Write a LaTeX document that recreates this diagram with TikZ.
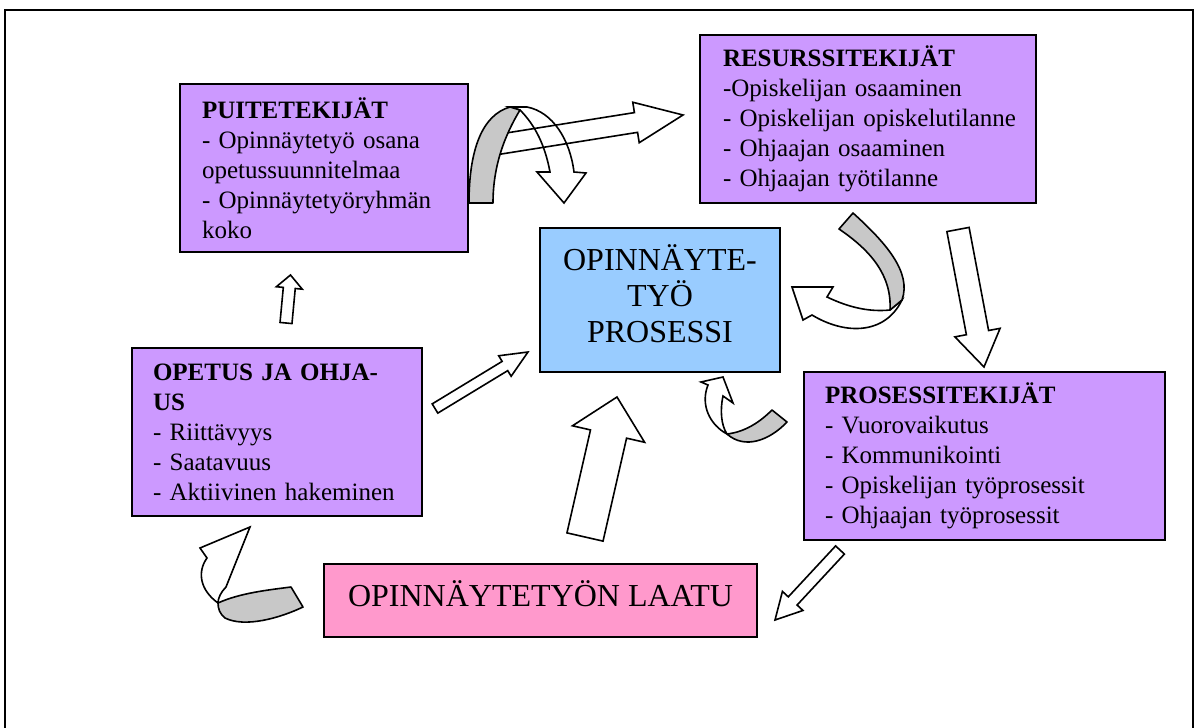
\documentclass[tikz,border=0pt]{standalone}
\usepackage{fontspec}
\setmainfont{Liberation Serif}
\usepackage{tikz}
\usetikzlibrary{calc,positioning}

\definecolor{boxpurple}{HTML}{CC99FF}
\definecolor{boxblue}{HTML}{99CCFF}
\definecolor{boxpink}{HTML}{FF99CC}
\definecolor{bandgray}{HTML}{C8C8C8}

\tikzset{
	factor/.style={draw, line width=1pt, fill=boxpurple, minimum height=84pt, align=left, font=\fontsize{12.5}{15}\selectfont},
	core/.style={draw, line width=1pt, fill=boxblue, minimum width=120pt, minimum height=72pt, text depth=6.5pt, align=center, font=\fontsize{16}{18}\selectfont},
	quality/.style={draw, line width=1pt, fill=boxpink, minimum width=216.5pt, minimum height=36.5pt, text depth=7pt, font=\fontsize{16}{18}\selectfont},
	frontside/.style={draw, line width=0.8pt, fill=white, line join=miter},
	backside/.style={draw, line width=0.8pt, fill=bandgray, line join=round},
}

% tail, tip, shaft half width, head half width, head length
\newcommand{\blockarr}[5]{%
	\coordinate (hb) at ($(#2)!#5!(#1)$);
	\draw[frontside] ($(#1)!#3!90:(#2)$) -- ($(hb)!#3!90:(#2)$) -- ($(hb)!#4!90:(#2)$) -- (#2)
		-- ($(hb)!#4!-90:(#2)$) -- ($(hb)!#3!-90:(#2)$) -- ($(#1)!#3!-90:(#2)$) -- cycle;}

\begin{document}
\begin{tikzpicture}[x=0.5pt,y=-0.5pt]
		\useasboundingbox (0,0) rectangle (1196,728);
		\draw[line width=1pt] (5,728) -- (5,10) -- (1193,10) -- (1193,728);

		\node[factor, text width=122pt, inner xsep=11pt] (puite) at (324,168) {\textbf{PUITETEKIJÄT}\\- Opinnäytetyö osana\\opetussuunnitelmaa\\- Opinnäytetyöryhmän\\koko};
		\node[factor, text width=145pt, inner xsep=11.5pt] (resurssi) at (868,119) {\textbf{RESURSSITEKIJÄT}\\-Opiskelijan osaaminen\\\mbox{- Opiskelijan opiskelutilanne}\\- Ohjaajan osaaminen\\- Ohjaajan työtilanne};
		\node[factor, text width=159.5pt, inner xsep=10.5pt] (prosessi) at (984.5,456) {\textbf{PROSESSITEKIJÄT}\\- Vuorovaikutus\\- Kommunikointi\\- Opiskelijan työprosessit\\- Ohjaajan työprosessit};
		\node[factor, text width=124pt, inner xsep=10.5pt] (opetus) at (277,432) {\textbf{OPETUS JA OHJA-}\\\textbf{US}\\- Riittävyys\\- Saatavuus\\- Aktiivinen hakeminen};
		\node[core] (tyo) at (660,300) {OPINNÄYTE-\\TYÖ\\PROSESSI};
		\node[quality] (laatu) at (540.5,600.5) {OPINNÄYTETYÖN LAATU};

		\coordinate (a1-tail) at (286,323);		\coordinate (a1-tip) at (290.5,275);
		\coordinate (a2-tail) at (435,408.5);	\coordinate (a2-tip) at (528,352);
		\coordinate (a3-tail) at (585,537);		\coordinate (a3-tip) at (617,397);
		\coordinate (a4-tail) at (840,550);		\coordinate (a4-tip) at (775,620);
		\coordinate (a5-tail) at (958,229.5);	\coordinate (a5-tip) at (984,367);
		\coordinate (a6-tail) at (490,145.7);	\coordinate (a6-tip) at (683,115);

		\blockarr{a1-tail}{a1-tip}{3pt}{6.5pt}{6.5pt}
		\blockarr{a2-tail}{a2-tip}{2.7pt}{6pt}{13.5pt}
		\blockarr{a3-tail}{a3-tip}{9.25pt}{18.5pt}{19pt}
		\blockarr{a4-tail}{a4-tip}{3pt}{7pt}{13pt}
		\blockarr{a5-tail}{a5-tip}{5.65pt}{11.5pt}{17.5pt}
		\blockarr{a6-tail}{a6-tip}{5pt}{10.25pt}{23.8pt}

		\draw[frontside, fill=none] (510,107) -- (527,107) .. controls (553,112) and (570,140) .. (574,172) -- (586,173) -- (564,203) -- (537,172) -- (550,172) .. controls (545,145) and (535,125) .. (520,110) -- cycle;
		\draw[backside] (469,203) .. controls (469,150) and (482,115) .. (510,107) -- (520,110) .. controls (505,135) and (493,165) .. (493,203) -- cycle;

		\draw[frontside] (890,310) .. controls (870,312) and (850,308) .. (827,297) -- (833,287) -- (792,287) -- (803,320) -- (812,315) .. controls (845,335) and (885,335) .. (902,300) -- cycle;
		\draw[backside] (839,229) -- (853,213) .. controls (885,242) and (912,272) .. (902,300) -- (890,310) .. controls (892,275) and (870,250) .. (839,229) -- cycle;

		\draw[frontside] (727,434) .. controls (710,425) and (700,405) .. (708,385) -- (701,382) -- (723,377) -- (733,403) -- (723,396) .. controls (720,410) and (721,425) .. (727,434) -- cycle;
		\draw[backside] (727,434) .. controls (745,432) and (760,422) .. (772,410) -- (787,422) .. controls (770,440) and (745,450) .. (727,434) -- cycle;

		\draw[frontside] (218,603) .. controls (200,590) and (197,572) .. (207,558) -- (200,548) -- (250,527) -- (226,587) .. controls (221,592) and (218,598) .. (218,603) -- cycle;
		\draw[backside] (218,603) .. controls (240,593) and (268,590) .. (291,587) -- (303,607) .. controls (280,618) and (245,628) .. (225,618) .. controls (220,614) and (218,609) .. (218,603) -- cycle;
\end{tikzpicture}
\end{document}
